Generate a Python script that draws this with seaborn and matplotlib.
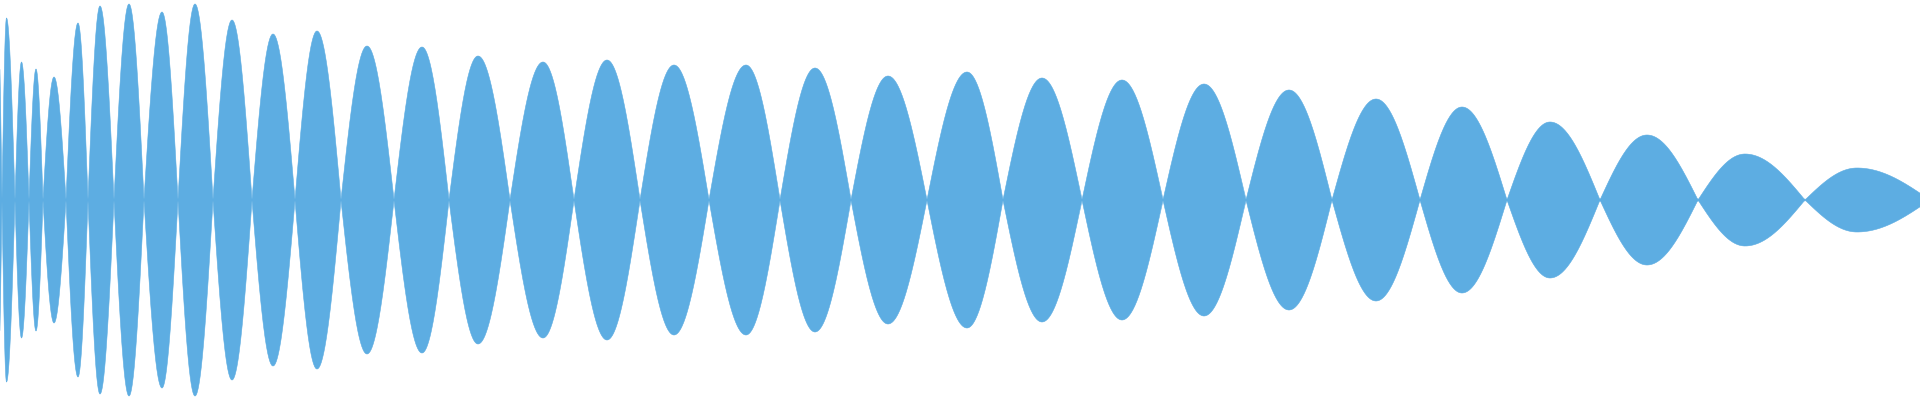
import numpy as np
import pandas as pd
import matplotlib.pyplot as plt
import seaborn as sns

# -------------------------------
# Waveform lobes
# -------------------------------
# lobe boundaries (envelope zero crossings), in samples
crossings = [-9, 2, 15, 29, 43, 66, 88, 114, 144, 178, 213, 252, 295, 341,
             394, 449, 510, 574, 640, 709, 780, 851, 927, 1003, 1082, 1163,
             1246, 1332, 1420, 1507, 1600, 1698, 1805, 1930]

# where each lobe peaks
peak_pos = [-2, 6.5, 21.5, 36, 54, 78, 100, 129, 162, 195, 232, 273, 317, 367,
            422, 478, 543, 607, 674, 746, 815, 888, 967, 1042, 1122, 1204,
            1289, 1376, 1462, 1550, 1647, 1745, 1857]

# peak amplitude of each lobe (normalised, full scale = 1)
peak_amp = [0.90, 0.91, 0.69, 0.655, 0.615, 0.885, 0.97, 0.98, 0.94, 0.98,
            0.90, 0.83, 0.845, 0.77, 0.765, 0.72, 0.69, 0.70, 0.675, 0.675,
            0.66, 0.62, 0.64, 0.61, 0.60, 0.58, 0.55, 0.505, 0.465, 0.39,
            0.325, 0.23, 0.16]

WAVE_COLOR = '#5DADE2'

# -------------------------------
# Build the envelope, one half-sine rise + fall per lobe
# -------------------------------
xs, env = [], []
for i in range(len(peak_amp)):
    s, p, e = crossings[i], peak_pos[i], crossings[i + 1]
    a = peak_amp[i]
    up = np.linspace(s, p, 60, endpoint=False)
    down = np.linspace(p, e, 60, endpoint=False)
    xs.append(up)
    env.append(a * np.sin(np.pi / 2 * (up - s) / (p - s)))
    xs.append(down)
    env.append(a * np.sin(np.pi / 2 * (e - down) / (e - p)))

df = pd.DataFrame({'x': np.concatenate(xs), 'amp': np.concatenate(env)})
df['amp'] = df['amp'].clip(lower=0.004)  # hairline at the crossings
df['neg'] = -df['amp']

# -------------------------------
# Plot
# -------------------------------
sns.set_theme(style='white')
fig = plt.figure(figsize=(19.2, 4), dpi=100)
ax = fig.add_axes([0, 0, 1, 1])

ax.fill_between(df['x'], df['neg'], df['amp'], color=WAVE_COLOR, lw=0)
sns.lineplot(data=df, x='x', y='amp', ax=ax, color=WAVE_COLOR, lw=0.4)
sns.lineplot(data=df, x='x', y='neg', ax=ax, color=WAVE_COLOR, lw=0.4)

ax.set_xlim(0, 1920)
ax.set_ylim(-1, 1)
ax.axis('off')

fig.savefig('out.png', dpi=100, facecolor='white')
plt.close()
